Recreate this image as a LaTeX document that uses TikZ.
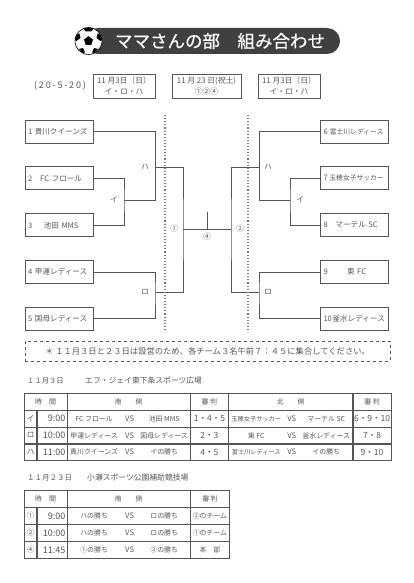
\documentclass[tikz,border=0pt]{standalone}
\usepackage{fontspec}
\setmainfont{Noto Sans CJK JP}
\newfontfamily\titlefont[FakeBold=0.4]{Noto Sans CJK JP}
\newfontfamily\widefont[LetterSpace=20]{Noto Sans CJK JP}
\usetikzlibrary{positioning, matrix, calc}
\definecolor{inkgray}{HTML}{555555}
\definecolor{pilldark}{HTML}{404040}
\newcommand{\fsz}[1]{\fontsize{#1}{#1}\selectfont}
\newcommand{\vsrow}[2]{\makebox[54pt]{#1}\makebox[17pt]{\fsz{7.6}VS}\makebox[52pt]{#2}}
\newcommand{\teamname}[2]{#1\hfil #2\hfil}
\tikzset{
    teambox/.style={
        draw=inkgray, line width=.8pt, text=inkgray,
        minimum width=68pt, minimum height=23pt, inner xsep=3pt, inner ysep=0pt,
        text width=62pt, font=\fsz{7.6}
    },
    datebox/.style={
        draw=inkgray, line width=.8pt, text=inkgray, align=center,
        minimum height=24pt, inner sep=0pt, font=\fontsize{7.8}{11}\selectfont
    },
    bracket/.style={draw=inkgray, line width=.8pt},
    divider/.style={draw=inkgray!80, line width=1.1pt, dotted},
    tag/.style={text=inkgray, inner sep=0pt, font=\fsz{7.5}},
    caption/.style={text=inkgray, inner sep=0pt, anchor=west, font=\fsz{7.8}},
    kumigrid/.style={
        matrix of nodes,
        anchor=north west,
        inner sep=0pt,
        column sep=-\pgflinewidth,
        row sep=-\pgflinewidth,
        nodes in empty cells,
        nodes={draw=inkgray, line width=.7pt, text=inkgray, anchor=center, inner sep=0pt,
            font=\fsz{6.9}, minimum height=#1},
        column 1/.style={nodes={minimum width=12pt, font=\fsz{7.5}}},
        column 2/.style={nodes={text width=27pt, align=right, inner xsep=1.5pt, font=\fsz{9}}}
    }
}
\begin{document}
\begin{tikzpicture}[x=1pt, y=-1pt, node distance=23pt]
\useasboundingbox (0,0) rectangle (414,583);

% title
\node[fill=pilldark, rounded corners=13pt, minimum width=255pt, minimum height=26pt,
    inner sep=0pt, text=white, font=\titlefont\fsz{17.5}] (title) at (212.5,41) {\hspace*{15pt}ママさんの部　組み合わせ};
\node[circle, draw=black, fill=white, line width=.6pt, minimum size=27pt, inner sep=0pt] (ball) at (88.5,41) {};
\fill[black] (88.5,36.2) -- (93,39.5) -- (91.3,44.8) -- (85.7,44.8) -- (84,39.5) -- cycle;
\fill[black] (83.5,28.2) -- (93.5,28.2) -- (91.5,31.5) -- (85.5,31.5) -- cycle;
\fill[black] (76.2,35) -- (79.5,33.5) -- (80.5,38) -- (76.5,41) -- (75,40) -- cycle;
\fill[black] (100.8,35) -- (97.5,33.5) -- (96.5,38) -- (100.5,41) -- (102,40) -- cycle;
\fill[black] (79,49) -- (83,48) -- (85,52.5) -- (82.5,53) -- cycle;
\fill[black] (98,49) -- (94,48) -- (92,52.5) -- (94.5,53) -- cycle;

% dates
\node[text=inkgray, inner sep=0pt, font=\widefont\fsz{9}] (season) at (60,86) {(20-5-20)};
\node[datebox, minimum width=62pt] (dateA) at (124,86) {11 月3日（日）\\イ・ロ・ハ};
\node[datebox, minimum width=69pt] (dateB) at (206.5,86) {11 月 23 日(祝土)\\①②④};
\node[datebox, minimum width=62pt] (dateC) at (289,86) {11 月3日（日）\\イ・ロ・ハ};

% teams
\node[teambox]              (t1) at (59,131.5) {\teamname{1}{貴川クイーンズ}};
\node[teambox, below=of t1] (t2) {\teamname{2}{FC フロール}};
\node[teambox, below=of t2] (t3) {\teamname{3}{池田 MMS}};
\node[teambox, below=of t3] (t4) {\teamname{4}{甲運レディース}};
\node[teambox, below=of t4] (t5) {\teamname{5}{国母レディース}};
\node[teambox]              (t6) at (354.5,131.5) {\teamname{6}{\fsz{6.8}富士川レディース}};
\node[teambox, below=of t6] (t7) {\teamname{7}{\fsz{6.8}玉穂女子サッカー}};
\node[teambox, below=of t7] (t8) {\teamname{8}{マーテル SC}};
\node[teambox, below=of t8] (t9) {\teamname{9}{東 FC}};
\node[teambox, below=of t9] (t10) {\teamname{10}{釜水レディース}};

% bracket points
\coordinate (li) at (124,200);
\coordinate (lk) at (155,200);
\coordinate (lha) at (155,167);
\coordinate (lro) at (155,292);
\coordinate (lm) at (183,229);
\coordinate (fin) at (207,229);
\coordinate (fintop) at (207,212);
\coordinate (rm) at (231,229);
\coordinate (rha) at (259,167);
\coordinate (rk) at (259,200);
\coordinate (rro) at (259,292);
\coordinate (ri) at (290,200);

\draw[bracket] (t2.east) -| (li) |- (t3.east);
\draw[bracket] (t1.east) -| (lk) -- (li);
\draw[bracket] (t4.east) -| (lro) |- (t5.east);
\draw[bracket] (lha) -| (lm) |- (lro);
\draw[bracket] (lm) -- (rm);
\draw[bracket] (fin) -- (fintop);
\draw[bracket] (rha) -| (rm) |- (rro);
\draw[bracket] (t6.west) -| (rk) -- (ri);
\draw[bracket] (t7.west) -| (ri) |- (t8.west);
\draw[bracket] (t9.west) -| (rro) |- (t10.west);

\coordinate (dvA) at (165,115);
\coordinate (dvB) at (165,331);
\coordinate (dvC) at (248,115);
\coordinate (dvD) at (248,331);
\draw[divider] (dvA) -- (dvB);
\draw[divider] (dvC) -- (dvD);

\node[tag] (lbA) at (145,167) {ハ};
\node[tag] (lbB) at (114,200) {イ};
\node[tag] (lbC) at (145,292) {ロ};
\node[tag] (lbD) at (174,229) {①};
\node[tag] (lbE) at (207,236.5) {④};
\node[tag] (lbF) at (240,229) {②};
\node[tag] (lbG) at (268,167) {ハ};
\node[tag] (lbH) at (300,200) {イ};
\node[tag] (lbI) at (268,292) {ロ};

% notice
\node[draw=inkgray, dashed, line width=.7pt, minimum width=365pt, minimum height=20pt,
    inner sep=0pt, text=inkgray, font=\fsz{8.3}] (notice) at (207.5,351)
    {＊ １１月３日と２３日は設営のため、各チーム３名午前７：４５に集合してください。};

% first day
\node[caption, font=\fsz{7.3}] (dayA) at (27,381) {１１月３日};
\node[caption] (placeA) at (85,381) {エフ・ジェイ東下条スポーツ広場};
\matrix[kumigrid=16.5pt,
    column 3/.style={nodes={minimum width=123pt}},
    column 4/.style={nodes={minimum width=38pt, font=\fsz{8.5}}},
    column 5/.style={nodes={minimum width=124pt}},
    column 6/.style={nodes={minimum width=38pt, font=\fsz{8.5}}}
] (gridA) at (24,393) {
|[draw=none]|&|[draw=none]|&南　　側&|[font=\fsz{7}]|審 判&北　　側&|[font=\fsz{7}]|審 判\\
イ&9:00&\vsrow{FC フロール}{池田 MMS}&1・4・5&\vsrow{\fsz{6.2}玉穂女子サッカー}{マーテル SC}&6・9・10\\
ロ&10:00&\vsrow{甲運レディース}{国母レディース}&2・3&\vsrow{東 FC}{釜水レディース}&7・8\\
ハ&11:00&\vsrow{貴川クイーンズ}{イの勝ち}&4・5&\vsrow{\fsz{6.2}富士川レディース}{イの勝ち}&9・10\\
};
\draw[inkgray, line width=.7pt] (gridA-1-1.north west) rectangle (gridA-1-2.south east);
\node[text=inkgray, inner sep=0pt, font=\fsz{7}] (timeA) at ($(gridA-1-1.north west)!.5!(gridA-1-2.south east)$) {時　間};

% second day
\node[caption, font=\fsz{7.5}] (dayB) at (27,478) {１１月２３日};
\node[caption] (placeB) at (87,478) {小瀬スポーツ公園補助競技場};
\matrix[kumigrid=16.75pt,
    column 3/.style={nodes={minimum width=123pt}},
    column 4/.style={nodes={minimum width=39pt}}
] (gridB) at (24,490) {
|[draw=none]|&|[draw=none]|&南　　側&審 判\\
①&9:00&\vsrow{ハの勝ち}{ロの勝ち}&②のチーム\\
②&10:00&\vsrow{ハの勝ち}{ロの勝ち}&①のチーム\\
④&11:45&\vsrow{①の勝ち}{②の勝ち}&本　部\\
};
\draw[inkgray, line width=.7pt] (gridB-1-1.north west) rectangle (gridB-1-2.south east);
\node[text=inkgray, inner sep=0pt, font=\fsz{7}] (timeB) at ($(gridB-1-1.north west)!.5!(gridB-1-2.south east)$) {時　間};
\end{tikzpicture}
\end{document}
